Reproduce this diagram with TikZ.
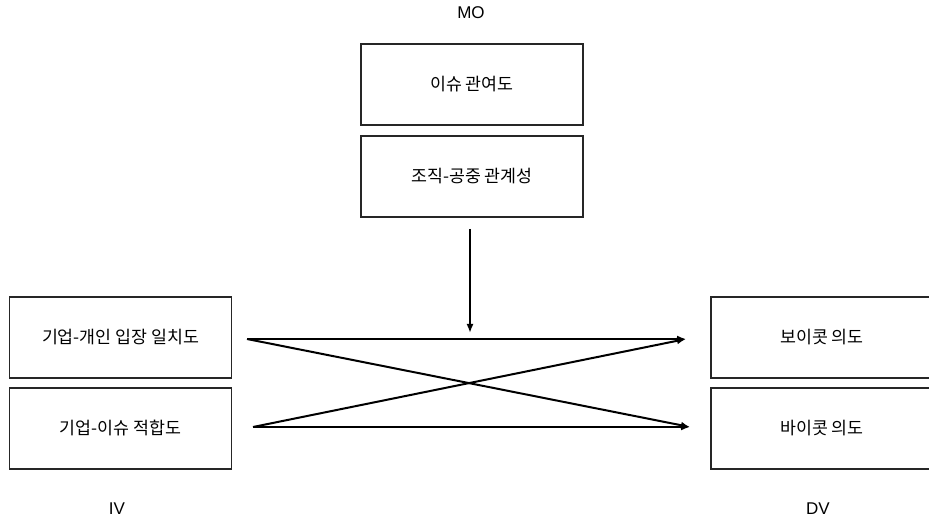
\documentclass[tikz,border=0pt]{standalone}
\usepackage{fontspec}
\setmainfont{Liberation Sans}
\newfontfamily\kr{Noto Sans CJK KR}
\usetikzlibrary{arrows.meta}
\begin{document}
\begin{tikzpicture}[x=1pt,y=-1pt,
  varbox/.style={draw=black!85,line width=1.3pt,minimum width=222pt,minimum height=81pt,inner sep=0pt,font=\kr\fontsize{17.3}{20}\selectfont},
  lbl/.style={font=\fontsize{17}{20}\selectfont,inner sep=0pt},
  conn/.style={line width=2pt,-{Latex[length=9pt,width=7pt]}}]
\useasboundingbox (0,0) rectangle (929,521);
\clip (0,0) rectangle (929,521);
\node[lbl] (mo) at (471,13) {MO};
\node[varbox] (m1) at (472,84.5) {이슈 관여도};
\node[varbox] (m2) at (472,176.5) {조직-공중 관계성};
\node[varbox] (l1) at (120.5,337.5) {기업-개인 입장 일치도};
\node[varbox] (l2) at (120.5,428.5) {기업-이슈 적합도};
\node[varbox] (r1) at (822,337.5) {보이콧 의도};
\node[varbox] (r2) at (822,428.5) {바이콧 의도};
\node[lbl] (iv) at (117,509) {IV};
\node[lbl] (dv) at (818,509) {DV};
\coordinate (a1) at (247,339);
\coordinate (a2) at (253,427);
\coordinate (b1) at (686,339);
\coordinate (b2) at (690,427);
\coordinate (mt) at (470,229);
\coordinate (mb) at (470,333);
\draw[conn] (mt) -- (mb);
\draw[conn] (a1) -- (b1);
\draw[conn] (a1) -- (b2);
\draw[conn] (a2) -- (b2);
\draw[conn] (a2) -- (b1);
\end{tikzpicture}
\end{document}
